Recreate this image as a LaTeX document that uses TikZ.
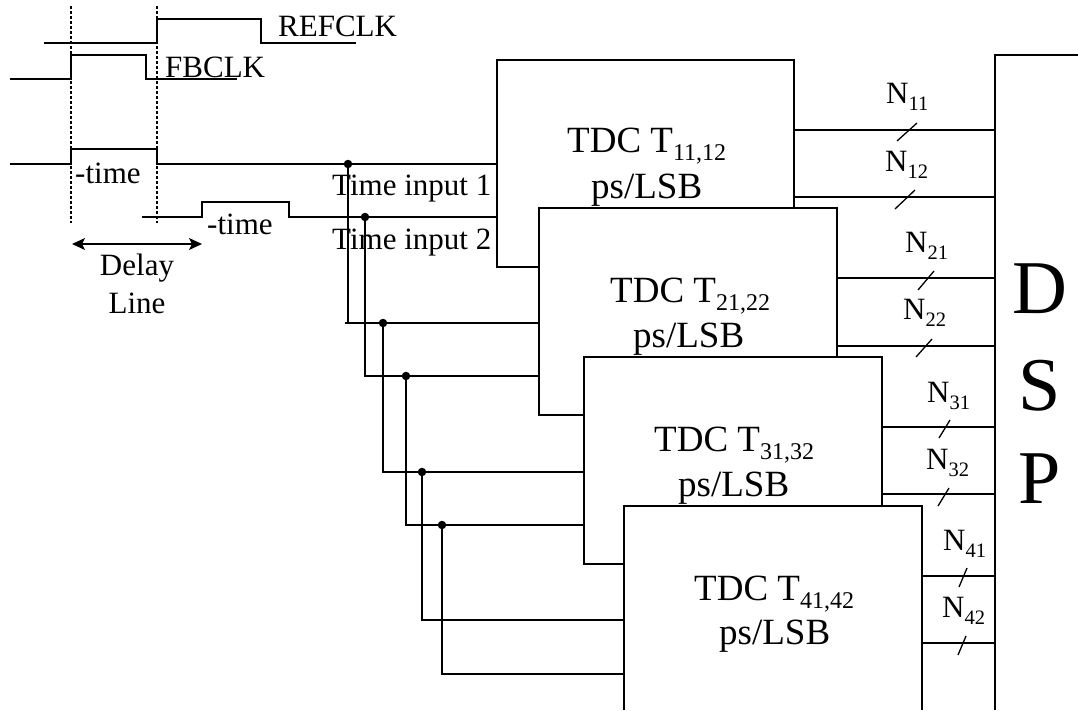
\documentclass[tikz,border=0pt]{standalone}
\usepackage{fontspec}
\setmainfont{Liberation Serif}
\usetikzlibrary{arrows.meta}
\newcommand{\fs}[1]{\fontsize{#1}{#1}\selectfont}
\newcommand{\subtxt}[2]{\raisebox{-0.24em}{\fs{#1}#2}}
\newcommand{\Nlab}[1]{N\subtxt{20.5}{#1}}
\newcommand{\Tlab}[1]{TDC T\subtxt{24}{#1}}
\tikzset{
  wire/.style={draw=black,line width=1.6pt,line join=miter},
  tdcbox/.style={draw=black,fill=white,line width=1.6pt,rectangle,inner sep=0pt,outer sep=0pt,anchor=north west},
  lab/.style={inner sep=0pt,anchor=base west,font=\fs{31}},
  clab/.style={inner sep=0pt,anchor=base,font=\fs{31}},
  tdctxt/.style={inner sep=0pt,anchor=base west,font=\fs{37}},
  biglab/.style={inner sep=0pt,anchor=base,font=\fs{76}},
  nlab/.style={inner sep=0pt,anchor=base west,font=\fs{31}},
  dot/.style={circle,fill=black,inner sep=0pt,minimum size=8.5pt},
  guide/.style={draw=black,line width=1.3pt,dash pattern=on 3pt off 2pt},
  tick/.style={draw=black,line width=1.3pt},
  dltip/.tip={Stealth[length=13pt,width=12pt,inset=3pt]}
}
\begin{document}
\begin{tikzpicture}[x=1pt,y=-1pt]
\useasboundingbox (0,0) rectangle (1078,710);

% boxes
\node[tdcbox,minimum width=297pt,minimum height=207pt] (b1) at (497,60) {};
\node[tdcbox,minimum width=298pt,minimum height=207pt] (b2) at (539,208) {};
\node[tdcbox,minimum width=298pt,minimum height=207pt] (b3) at (584,357) {};
\coordinate (b4bl) at (624,710);
\coordinate (b4tl) at (624,506);
\coordinate (b4tr) at (922,506);
\coordinate (b4br) at (922,710);
\draw[wire,fill=white] (b4bl) -- (b4tl) -- (b4tr) -- (b4br);
\coordinate (dspr) at (1078,55);
\coordinate (dsptl) at (995,55);
\coordinate (dspbl) at (995,710);
\draw[wire] (dspr) -- (dsptl) -- (dspbl);

% waveforms
\coordinate (rs) at (44,43); \coordinate (re) at (356,43);
\draw[wire] (rs) -- (157,43) -- (157,19) -- (261,19) -- (261,43) -- (re);
\coordinate (fs) at (10,79); \coordinate (fe) at (237,79);
\draw[wire] (fs) -- (71,79) -- (71,55) -- (146,55) -- (146,79) -- (fe);
\coordinate (i1) at (10,164);
\coordinate (i2) at (142,217);
\coordinate (j1) at (348,164);
\coordinate (j2) at (365,217);
\draw[wire] (i1) -- (71,164) -- (71,149) -- (157,149) -- (157,164) -- (j1) -- (j1 -| b1.west);
\draw[wire] (i2) -- (202,217) -- (202,202) -- (289,202) -- (289,217) -- (j2) -- (j2 -| b1.west);
\coordinate (g1a) at (71,6); \coordinate (g1b) at (71,223);
\coordinate (g2a) at (157,6); \coordinate (g2b) at (157,223);
\draw[guide] (g1a) -- (g1b);
\draw[guide] (g2a) -- (g2b);
\coordinate (dla) at (72,244); \coordinate (dlb) at (202,244);
\draw[line width=1.4pt,dltip-dltip] (dla) -- (dlb);

% input wiring
\coordinate (j3) at (383,323);
\coordinate (j4) at (406,376);
\coordinate (j5) at (422,472);
\coordinate (j6) at (442,525);
\coordinate (t1) at (345,323);
\coordinate (k1) at (422,620);
\coordinate (k2) at (442,674);
\draw[wire] (j1) -- (j1 |- t1);
\draw[wire] (t1) -- (t1 -| b2.west);
\draw[wire] (j2) -- (j2 |- j4) -- (j4 -| b2.west);
\draw[wire] (j3) -- (j3 |- j5) -- (j5 -| b3.west);
\draw[wire] (j4) -- (j4 |- j6) -- (j6 -| b3.west);
\draw[wire] (j5) -- (k1) -- (k1 -| b4tl);
\draw[wire] (j6) -- (k2) -- (k2 -| b4tl);
\foreach \j in {j1,j2,j3,j4,j5,j6} \node[dot] (d\j) at (\j) {};

% outputs
\coordinate (o11) at (794,130); \coordinate (o12) at (794,197);
\coordinate (o21) at (837,278); \coordinate (o22) at (837,346);
\coordinate (o31) at (882,427); \coordinate (o32) at (882,494);
\coordinate (o41) at (922,576); \coordinate (o42) at (922,643);
\foreach \o in {o11,o12,o21,o22,o31,o32,o41,o42} \draw[wire] (\o) -- (\o -| dsptl);

% bus ticks
\coordinate (s1a) at (897,141); \coordinate (s1b) at (917,123);
\coordinate (s2a) at (895,209); \coordinate (s2b) at (915,190);
\coordinate (s3a) at (918,290); \coordinate (s3b) at (934,271);
\coordinate (s4a) at (916,357); \coordinate (s4b) at (932,339);
\coordinate (s5a) at (939,438); \coordinate (s5b) at (950,420);
\coordinate (s6a) at (938,506); \coordinate (s6b) at (949,488);
\coordinate (s7a) at (959,587); \coordinate (s7b) at (967,568);
\coordinate (s8a) at (958,655); \coordinate (s8b) at (966,636);
\foreach \i in {1,...,8} \draw[tick] (s\i a) -- (s\i b);

% labels
\node[lab] (refclk) at (278,36) {REFCLK};
\node[lab] (fbclk) at (165,77) {FBCLK};
\node[lab] (t1lab) at (75,183) {-time};
\node[lab] (t2lab) at (207,234) {-time};
\node[clab] (delay) at (137,275) {Delay};
\node[clab] (line) at (137,313) {Line};
\node[lab] (ti1) at (332,195) {Time input 1};
\node[lab] (ti2) at (332,249) {Time input 2};

\node[tdctxt] (tt1) at (567,152) {\Tlab{11,12}};
\node[tdctxt] (pp1) at (591,198) {ps/LSB};
\node[tdctxt] (tt2) at (610,302) {\Tlab{21,22}};
\node[tdctxt] (pp2) at (633,347) {ps/LSB};
\node[tdctxt] (tt3) at (654,451) {\Tlab{31,32}};
\node[tdctxt] (pp3) at (678,496) {ps/LSB};
\node[tdctxt] (tt4) at (694,600) {\Tlab{41,42}};
\node[tdctxt] (pp4) at (719,644) {ps/LSB};

\node[nlab] (n11) at (886,103) {\Nlab{11}};
\node[nlab] (n12) at (885,171) {\Nlab{12}};
\node[nlab] (n21) at (905,252) {\Nlab{21}};
\node[nlab] (n22) at (903,319) {\Nlab{22}};
\node[nlab] (n31) at (927,402) {\Nlab{31}};
\node[nlab] (n32) at (926,469) {\Nlab{32}};
\node[nlab] (n41) at (943,550) {\Nlab{41}};
\node[nlab] (n42) at (942,617) {\Nlab{42}};

\node[biglab] (dd) at (1040,313) {D};
\node[biglab] (ss) at (1040,410) {S};
\node[biglab] (pp) at (1040,503) {P};
\end{tikzpicture}
\end{document}
